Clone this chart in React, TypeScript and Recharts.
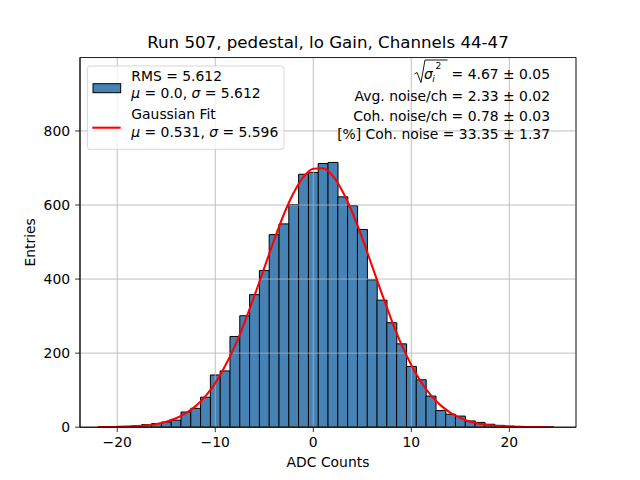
import React from 'react';
import { ComposedChart, Bar, Line, XAxis, YAxis, CartesianGrid } from 'recharts';

// Histogram bin centres (ADC counts), bin width 1
const binCenters = [
  -22, -21, -20, -19, -18, -17, -16, -15, -14, -13, -12, -11, -10, -9, -8, -7, -6, -5, -4, -3, -2, -1,
  0, 1, 2, 3, 4, 5, 6, 7, 8, 9, 10, 11, 12, 13, 14, 15, 16, 17, 18, 19, 20, 21, 22, 23, 24,
];

// Entries per bin
const counts = [
  0, 1, 1, 2, 4, 7, 10, 14, 19, 41, 51, 81, 141, 152, 245, 301, 358, 423, 520, 549, 601, 683,
  688, 712, 715, 622, 598, 534, 398, 343, 282, 225, 164, 128, 84, 45, 35, 30, 17, 13, 8, 5, 3, 2, 1, 1, 1,
];

// Gaussian fit curve, read at each bin centre
const fitValues = [
  0.2, 0.4, 0.8, 1.6, 2.9, 5.2, 8.9, 15, 24, 38, 57, 84, 119, 165, 219, 284, 355, 430, 505, 575, 633, 676,
  698, 699, 678, 636, 579, 510, 435, 360, 288, 223, 168, 122, 86, 59, 39, 25, 15, 9.2, 5.4, 3.0, 1.7, 0.9, 0.45, 0.22, 0.1,
];

const xTicks = [-20, -10, 0, 10, 20];
const yTicks = [0, 200, 400, 600, 800];
const xDomain = [-23.8, 26.8];
const yDomain = [0, 998];

const titleText = 'Run 507, pedestal, lo Gain, Channels 44-47';
const xLabel = 'ADC Counts';
const yLabel = 'Entries';

const data = binCenters.map((x, i) => ({ x, count: counts[i], fit: fitValues[i] }));

const FONT = "'DejaVu Sans', sans-serif";
const fmt = (v: number) => String(v).replace('-', '\u2212');

export default function App() {
  return (
    <div style={{ position: 'absolute', left: 0, top: 0, width: 640, height: 480, background: '#fff' }}>
      <ComposedChart
        width={640}
        height={480}
        data={data}
        margin={{ top: 57.6, right: 64, bottom: 0, left: 0 }}
        barCategoryGap={0}
        barGap={0}
      >
        <XAxis
          dataKey="x"
          type="number"
          domain={xDomain}
          ticks={xTicks}
          allowDataOverflow
          interval={0}
          height={52.8}
          tickSize={4.9}
          tickMargin={5}
          tickFormatter={fmt}
          stroke="#000"
          axisLine={{ stroke: '#000', strokeWidth: 0.8 }}
          tickLine={{ stroke: '#000', strokeWidth: 0.8 }}
          tick={{ fill: '#000', fontSize: 13.9, fontFamily: FONT }}
        />
        <YAxis
          type="number"
          domain={yDomain}
          ticks={yTicks}
          allowDataOverflow
          interval={0}
          width={80}
          tickSize={4.9}
          tickMargin={5}
          stroke="#000"
          axisLine={{ stroke: '#000', strokeWidth: 0.8 }}
          tickLine={{ stroke: '#000', strokeWidth: 0.8 }}
          tick={{ fill: '#000', fontSize: 13.9, fontFamily: FONT }}
        />
        <Bar
          dataKey="count"
          fill="#4682b4"
          stroke="#000"
          strokeWidth={1}
          isAnimationActive={false}
        />
        <CartesianGrid stroke="#b0b0b0" strokeWidth={0.8} zIndex={350} />
        <Line
          dataKey="fit"
          type="monotone"
          stroke="#ff0000"
          strokeWidth={2.08}
          dot={false}
          activeDot={false}
          isAnimationActive={false}
        />
      </ComposedChart>
      <svg
        width={640}
        height={480}
        style={{ position: 'absolute', left: 0, top: 0, pointerEvents: 'none' }}
        fontFamily={FONT}
      >
        <rect x={80} y={57.6} width={496} height={369.6} fill="none" stroke="#000" strokeWidth={0.8} />
        <text x={328} y={48.3} textAnchor="middle" fontSize={16.67} fill="#000">{titleText}</text>
        <text x={328} y={467.3} textAnchor="middle" fontSize={13.9} fill="#000">{xLabel}</text>
        <text x={35.5} y={242.4} textAnchor="middle" fontSize={13.9} fill="#000" transform="rotate(-90 35.5 242.4)">{yLabel}</text>

        {/* legend */}
        <rect x={87.3} y={66} width={196.7} height={83.3} rx={2.8} fill="#fff" fillOpacity={0.8} stroke="#cccccc" strokeOpacity={0.8} strokeWidth={1} />
        <rect x={93} y={83.7} width={27.7} height={9} fill="#4682b4" stroke="#000" strokeWidth={1} />
        <line x1={92.3} x2={120.7} y1={127.7} y2={127.7} stroke="#ff0000" strokeWidth={2.08} />
        <g fontSize={13.9} fill="#000">
          <text x={131.3} y={81.3}>RMS = 5.612</text>
          <text x={131.3} y={97.7}>
            <tspan fontStyle="italic">μ</tspan> = 0.0, <tspan fontStyle="italic">σ</tspan> = 5.612
          </text>
          <text x={131.3} y={119.3}>Gaussian Fit</text>
          <text x={131.3} y={137.3}>
            <tspan fontStyle="italic">μ</tspan> = 0.531, <tspan fontStyle="italic">σ</tspan> = 5.596
          </text>
        </g>

        {/* annotations */}
        <g fontSize={13.9} fill="#000">
          <path d="M 414.5 74 L 417 72.5 L 421 82.5 L 425 60 L 447.5 60" fill="none" stroke="#000" strokeWidth={0.9} />
          <text x={424} y={79} fontStyle="italic">σ</text>
          <text x={432.3} y={81.5} fontSize={9.2} fontStyle="italic">i</text>
          <text x={435.5} y={68.5} fontSize={9.2}>2</text>
          <text x={550} y={79} textAnchor="end">= 4.67 ± 0.05</text>
          <text x={550} y={101} textAnchor="end">Avg. noise/ch = 2.33 ± 0.02</text>
          <text x={550} y={121.2} textAnchor="end">Coh. noise/ch = 0.78 ± 0.03</text>
          <text x={550} y={138.5} textAnchor="end">[%] Coh. noise = 33.35 ± 1.37</text>
        </g>
      </svg>
    </div>
  );
}
